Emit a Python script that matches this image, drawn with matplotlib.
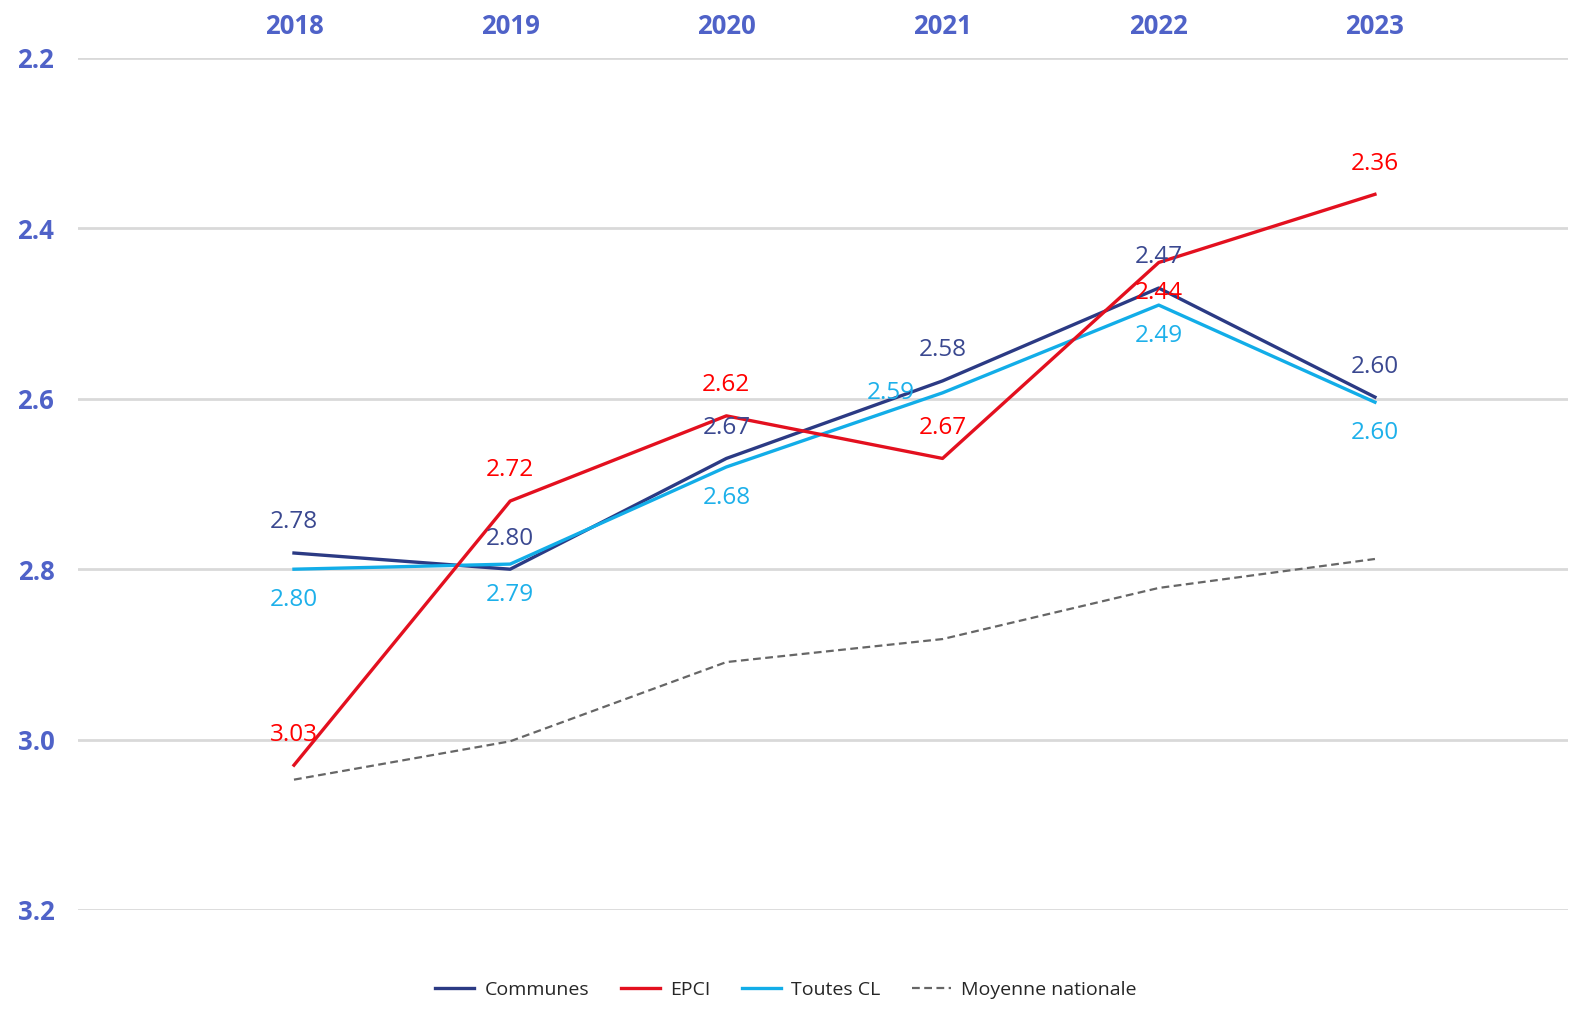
import matplotlib
matplotlib.use("Agg")
import matplotlib.pyplot as plt

plt.rcParams['font.family'] = ['Open Sans', 'DejaVu Sans']

years = ['2018', '2019', '2020', '2021', '2022', '2023']
communes = [2.781, 2.80, 2.67, 2.579, 2.47, 2.598]
epci = [3.03, 2.72, 2.62, 2.67, 2.44, 2.36]
toutes_cl = [2.80, 2.794, 2.68, 2.593, 2.49, 2.604]
moyenne = [3.047, 3.002, 2.909, 2.882, 2.822, 2.788]
y_ticks = [2.2, 2.4, 2.6, 2.8, 3.0, 3.2]

# label placement for each series: 'a' above, 'b' below, 'l' left
communes_pos = ['a', 'a', 'a', 'a', 'a', 'a']
epci_pos = ['a', 'a', 'a', 'a', 'b', 'a']
toutes_pos = ['b', 'b', 'b', 'l', 'b', 'b']

c_communes = '#2B3A84'
c_epci = '#E3101F'
c_toutes = '#12ADE8'
c_moy = '#666666'
c_tick = '#4F62C8'

W, H = 1572, 1009
fig = plt.figure(figsize=(W / 100, H / 100), dpi=100)
ax = fig.add_axes([78 / W, 1 - 910 / H, (1568 - 78) / W, (910 - 58) / H])

x = list(range(len(years)))
ax.plot(x, moyenne, color=c_moy, lw=1.6, ls=(0, (3.5, 2)), label='Moyenne nationale', zorder=2)
ax.plot(x, communes, color=c_communes, lw=2.4, label='Communes', zorder=3)
ax.plot(x, toutes_cl, color=c_toutes, lw=2.4, label='Toutes CL', zorder=4)
ax.plot(x, epci, color=c_epci, lw=2.4, label='EPCI', zorder=5)


def add_labels(vals, pos, color):
    for i, (v, p) in enumerate(zip(vals, pos)):
        if p == 'a':
            off, ha = (0, 22), 'center'
        elif p == 'b':
            off, ha = (0, -22), 'center'
        else:
            off, ha = (-20, 0), 'right'
        ax.annotate(f'{v:.2f}', (i, v), xytext=off, textcoords='offset points',
                    ha=ha, va='center', fontsize=17.5, color=color, zorder=6)


add_labels(communes, communes_pos, '#3A4890')
add_labels(epci, epci_pos, '#FF0000')
add_labels(toutes_cl, toutes_pos, '#1DB0EA')

ax.set_xlim(-0.999, 5.893)
ax.set_ylim(3.2, 2.2)
ax.set_xticks(x)
ax.set_xticklabels(years)
ax.xaxis.tick_top()
ax.set_yticks(y_ticks)
ax.set_yticklabels([f'{t:.1f}' for t in y_ticks])
ax.tick_params(axis='both', length=0, labelsize=18.5, labelcolor=c_tick)
ax.tick_params(axis='x', pad=13)
ax.tick_params(axis='y', pad=17)
for lab in ax.get_xticklabels() + ax.get_yticklabels():
    lab.set_fontweight('bold')

ax.grid(axis='y', color='#D9D9D9', lw=2)
ax.set_axisbelow(True)
for s in ax.spines.values():
    s.set_visible(False)

handles, labels = ax.get_legend_handles_labels()
order = ['Communes', 'EPCI', 'Toutes CL', 'Moyenne nationale']
hmap = dict(zip(labels, handles))
fig.legend([hmap[k] for k in order], order, loc='center', bbox_to_anchor=(0.5, 1 - 990 / H),
           ncol=4, frameon=False, fontsize=14, handlelength=2.0, handletextpad=0.55,
           columnspacing=1.6, labelcolor='#262626')

fig.savefig('out.png', dpi=100)
